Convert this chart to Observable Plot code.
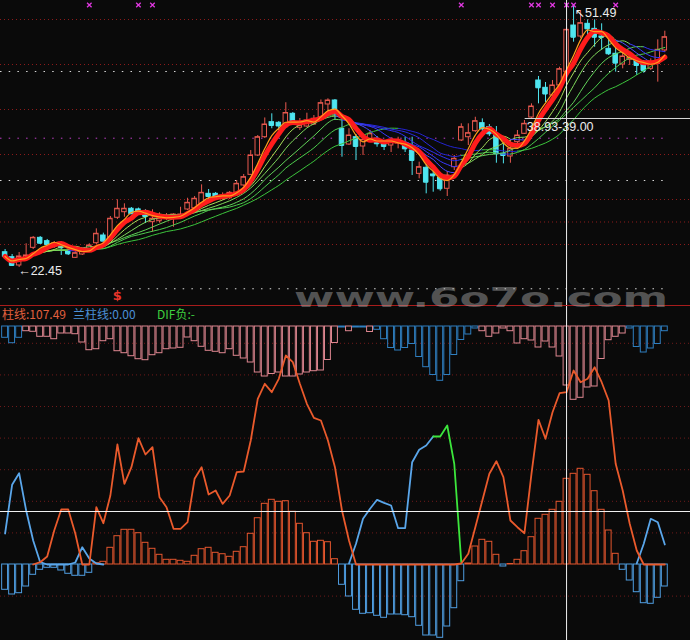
<!DOCTYPE html>
<html>
<head>
<meta charset="utf-8">
<script src="https://cdn.jsdelivr.net/npm/d3@7"></script>
<script src="https://cdn.jsdelivr.net/npm/@observablehq/plot@0.6"></script>
<style>
  html, body { margin: 0; padding: 0; background: #0a0a0a; }
  #chart { position: relative; width: 690px; height: 640px; overflow: hidden; background: #0a0a0a; }
  #upper, #lower { position: absolute; left: 0; }
  #upper { top: 0; }
  #lower { top: 306px; }
  #sep { position: absolute; left: 0; top: 305px; width: 690px; height: 1px; background: #a81c1c; }
  .hdr { position: absolute; top: 306px; font: 12px/16px "Noto Sans CJK SC", sans-serif; white-space: nowrap; }
  #wm { position: absolute; left: 294px; top: 284px; font: bold 27px/27px "DejaVu Sans", sans-serif;
        color: rgba(175,175,175,0.45); transform: scaleX(1.62); transform-origin: 0 0; white-space: nowrap; }
  svg { display: block; }
</style>
</head>
<body>
<div id="chart">
  <div id="upper"></div>
  <div id="lower"></div>
  <div id="sep"></div>
  <div class="hdr" style="left:2px;color:#e2603e">柱线:107.49</div>
  <div class="hdr" style="left:73px;color:#4b8fd6">兰柱线:0.00</div>
  <div class="hdr" style="left:157px;color:#3fcf3f">DIF负:-</div>
  <div id="wm">www.6o7o.com</div>
</div>
<script>
// ---------- price candles (95 bars) ----------
const open  = [24.14,23.59,22.67,23.30,24.63,25.74,25.37,24.78,25.08,24.26,23.52,23.89,24.33,25.14,26.00,25.44,27.97,28.59,28.97,28.90,
               28.59,27.48,27.59,27.86,27.97,28.03,28.89,29.03,29.52,30.63,30.63,30.08,30.14,30.74,31.56,32.74,34.89,36.92,38.59,38.52,
               38.03,39.52,37.97,38.11,38.33,39.14,40.56,41.00,37.86,36.11,36.92,35.89,36.67,36.74,36.37,36.00,36.22,36.00,35.44,32.85,
               33.52,32.78,32.41,31.19,33.59,36.56,36.92,37.59,38.48,38.03,37.11,35.08,34.78,36.37,37.30,39.11,43.22,42.41,41.56,42.67,
               44.15,49.33,48.11,49.52,48.96,48.11,46.74,46.19,45.00,45.52,45.44,45.08,44.52,45.07,46.56];
const high  = [24.44,23.89,24.11,25.08,25.89,25.89,25.56,25.33,25.33,24.44,24.22,24.44,25.08,26.74,26.26,28.11,29.97,29.52,29.11,29.05,
               28.86,28.86,28.52,28.44,28.41,29.14,30.14,30.33,31.63,31.11,30.78,30.74,30.89,32.11,32.78,35.44,37.11,39.06,39.52,38.67,
               40.75,39.67,39.00,39.59,39.33,41.06,41.19,41.11,39.14,37.86,37.22,36.89,37.67,37.00,36.56,36.89,36.92,36.92,36.92,34.15,
               33.89,33.59,32.78,33.11,34.89,38.41,38.41,39.14,38.96,38.33,38.11,36.26,36.56,37.67,38.78,40.63,43.67,43.00,43.22,44.70,
               49.11,51.49,51.00,49.96,49.96,49.52,48.41,46.92,46.56,46.37,45.81,45.44,45.63,47.74,48.70];
const low   = [23.45,22.56,22.45,23.11,24.44,25.00,24.78,24.56,23.78,23.78,23.45,23.78,24.22,25.00,25.22,25.33,27.78,28.03,28.33,28.30,
               27.33,26.37,27.37,27.67,26.92,27.89,28.78,28.89,29.44,29.89,30.00,29.89,30.00,30.67,31.44,32.67,34.78,36.78,37.86,37.67,
               37.89,38.22,37.67,38.00,38.22,39.00,39.11,38.78,34.70,36.00,34.33,34.89,36.56,35.81,35.44,35.22,35.63,35.22,32.67,32.30,
               30.63,30.81,30.92,30.33,33.22,36.44,36.00,37.44,37.11,37.00,34.03,33.96,34.03,36.22,37.22,39.00,40.63,40.78,41.44,42.56,
               44.00,47.48,47.89,48.03,46.92,46.56,46.00,44.15,44.52,44.89,43.78,44.03,44.33,43.04,46.33];
const close = [23.67,22.67,23.67,23.78,25.74,25.14,25.00,25.11,24.63,23.96,24.03,24.26,24.89,26.19,25.37,27.86,28.97,28.97,28.41,28.45,
               28.11,27.86,27.86,28.03,28.33,28.33,29.63,30.08,30.74,30.33,30.08,30.44,30.74,31.74,32.48,34.89,36.92,38.33,38.22,38.17,
               39.61,38.41,38.26,38.78,38.97,40.70,41.00,39.52,36.00,37.11,35.89,36.63,37.30,36.19,35.89,36.63,36.44,35.63,34.33,33.59,
               31.92,32.63,31.19,32.67,34.52,38.03,37.37,38.70,37.85,37.30,35.08,34.89,35.63,37.11,38.41,40.33,42.41,41.72,42.67,44.48,
               48.85,48.03,49.59,48.96,48.03,48.00,46.19,45.15,45.89,45.74,44.89,44.33,45.15,46.63,48.03];

// ---------- price grid lines and markers ----------
const priceGridRed   = [25, 27.5, 30, 35, 40, 45, 50];
const priceGridWhite = [20.08, 32.11, 44.22];
const priceGridPink  = [36.81];
const crossMarks     = [12, 19, 21, 65, 75, 76, 78, 80, 81, 87];   // magenta × at top
const signalMarks    = [{i: 16, t: "$"}];
const notes = [
  {i: 2,  p: 22.45, t: "←22.45", anchor: "start", dx: -1, dy: 4},
  {i: 81, p: 51.49, t: "↖51.49", anchor: "start", dx: 1,  dy: 7},
  {i: 80, p: 39.00, t: "38.93-39.00", anchor: "end", dx: 27, dy: 9}
];
const crossIdx = 80, crossPrice = 39.0, crossFrom = 74.1, crossLow = 53;

// ---------- lower panel ----------
// top hanging bars (+ pink 柱线, − blue 兰柱线)
const topBars = [-11.3,-16.7,-11.3,4.7,5.3,10.3,10.3,12.7,7,7,7.7,16,23.7,22.7,14.7,12.7,24.7,26.7,29.7,32.7,
                 33.7,28.7,26.7,22.7,22,21.3,11,14.7,20.3,24.3,25.3,26.7,22.7,29.3,32,36,46,50,47.5,46,
                 50,50,48,46,44.7,44,33.5,16.5,-1,4.7,-1,-1,5.5,-3.3,-12.7,-21.5,-24,-21.5,-17.5,-30.5,
                 -40.7,-48.5,-54.3,-48.5,-28.5,-13.5,-8,-2,4.7,10.3,7,2,4.7,17,12.7,14,21,15,21,30,
                 59,73.3,71.3,61,60,32.5,13.7,10.3,7,-2,-20.5,-26,-22,-17.5,-4.7];
// bottom histogram (+ red, − blue)
const hist = [-25.3,-30,-28.7,-22,-10.3,-5.3,-3.3,-3.3,-6,-9.3,-11.3,-11.3,-8.3,1.3,2.7,16.7,28.3,34.7,34.7,31.3,
              21.7,15.7,9.7,4.7,4.7,3.7,2.7,8.7,15.3,16.7,11.7,10.3,7.7,12.7,17.3,30.7,46.3,60.7,64.7,62.7,
              63.3,52.7,40.7,31.3,22.7,23.7,22.3,5.3,-20.3,-32,-45.3,-49.3,-48.7,-51.3,-53.3,-50,-50,-50.7,-52.7,-61.3,
              -71,-71,-73.3,-62,-43.7,-16.7,1,18,24.7,22.7,9.7,-2,0.5,4.7,13.3,27.3,45.7,49.7,54.7,62.7,
              85.7,90.7,95.7,89.7,73.3,54.7,34,10.7,-5.3,-16,-27.7,-38.7,-39.3,-33.3,-22];
const lineOrange = [null,null,null,null,0,2.3,8,34,55,55,31,0,0,57.3,41.3,69,120,80.7,97.3,126.3,
                    110,117.3,67.3,57.3,35.7,35.7,42.3,85.7,97.3,70,74,60.7,69,92.3,93,124,165.7,180.7,172.3,185.7,
                    209,202.3,180.7,160.7,146.7,144,124,97.3,54,24,0,0,0,0,0,0,0,0,0,0,
                    0,0,0,0,0,1,10.7,37.3,64,90.7,103.3,87.3,44,37.3,31.3,90.7,144.7,125.7,152.3,171.3,
                    172.3,194,182.3,185.7,197.3,182.3,164,100.7,74,40.7,14,0,0,0,0];
const lineBlue = [31,79.7,91.3,54,24,2.3,0,0,0,0,2,17.3,6,1,0,null,null,null,null,null,
                  null,null,null,null,null,null,null,null,null,null,null,null,null,null,null,null,null,null,null,null,
                  null,null,null,null,null,null,null,null,null,1,20.7,45.7,55.7,64.7,61.7,59,36.3,36.3,102.3,114.7,
                  119,128,null,null,null,null,null,null,null,null,null,null,null,null,null,null,null,null,null,null,
                  null,null,null,null,null,null,null,null,null,null,1,20.7,45.7,42.3,20];
const lineGreen = [null,null,null,null,null,null,null,null,null,null,null,null,null,null,null,null,null,null,null,null,
                   null,null,null,null,null,null,null,null,null,null,null,null,null,null,null,null,null,null,null,null,
                   null,null,null,null,null,null,null,null,null,null,null,null,null,null,null,null,null,null,null,null,
                   null,128,128,139,100.7,2.3,null,null,null,null,null,null,null,null,null,null,null,null,null,null,
                   null,null,null,null,null,null,null,null,null,null,null,null,null,null,null];
const lowGrid = [-31.6, 31.6, 63.2, 94.8, 126.4, 158, 189.6, 221.2];
const TOP_BASE = 238;

// ---------- styling ----------
const RED = "#ea5a50", CYAN = "#4fe6f0", BG = "#0a0a0a";
const xDomain = [-0.655, 97.66];
const maSpecs = [
  {k: 20, up: "#3cc43c", down: "#2424d0"},
  {k: 15, up: "#4ccc4c", down: "#2a2ae0"},
  {k: 12, up: "#62d35a", down: "#3030f0"},
  {k: 9,  up: "#80d95c", down: "#3838ff"},
  {k: 7,  up: "#a8de5a", down: "#4a4aff"}
];

const candles = close.map((c, i) => ({i, o: open[i], h: high[i], l: low[i], c, up: c >= open[i]}));

// colour each moving-average segment by its direction (rising green, falling blue)
function slopeColors(k, up, down) {
  const ma = close.map((_, i) => d3.mean(close.slice(Math.max(0, i - k + 1), i + 1)));
  return ma.map((m, i) => (i === 0 || m < ma[i - 1]) ? down : up);
}
const hw = 0.32, bw = 0.42;

const upper = Plot.plot({
  width: 690, height: 306, margin: 0,
  x: {domain: xDomain, axis: null},
  y: {domain: [18.111, 52.111], axis: null},
  color: {type: "identity"},
  style: {background: "transparent"},
  marks: [
    Plot.ruleY(priceGridRed, {stroke: "#8e1c1c", strokeDasharray: "1,3"}),
    Plot.ruleY(priceGridWhite, {x1: xDomain[0], x2: 94.3, stroke: "#dcdcdc", strokeDasharray: "1.5,7.2"}),
    Plot.ruleY(priceGridPink, {x1: xDomain[0], x2: 94.3, stroke: "#c040c8", strokeDasharray: "1.5,7.2"}),
    Plot.ruleX(candles, {x: "i", y1: "l", y2: "h", stroke: d => d.up ? RED : CYAN}),
    Plot.rect(candles, {x1: d => d.i - hw, x2: d => d.i + hw, y1: "o", y2: "c",
                        fill: d => d.up ? BG : CYAN, stroke: d => d.up ? RED : CYAN}),
    Plot.ruleY(candles, {x1: d => d.i - hw, x2: d => d.i + hw, y: "c", stroke: d => d.up ? RED : CYAN}),
    ...maSpecs.map(s => Plot.lineY(candles, Plot.windowY({k: s.k, anchor: "end"},
        {x: "i", y: "c", z: null, stroke: slopeColors(s.k, s.up, s.down), strokeWidth: 1, curve: "monotone-x"}))),
    Plot.lineY(candles, Plot.windowY({k: 5, anchor: "end"}, {x: "i", y: "c", stroke: "#ff1c1c", strokeWidth: 5, curve: "monotone-x"})),
    Plot.lineY(candles, Plot.windowY({k: 4, anchor: "end"}, {x: "i", y: "c", stroke: "#ff9d1c", strokeWidth: 1.2, curve: "monotone-x"})),
    Plot.dot(crossMarks, {x: d => d, frameAnchor: "top", dy: 4.5, symbol: "times", r: 2.2, stroke: "#e038e0", strokeWidth: 1.3}),
    Plot.text(signalMarks, {x: "i", text: "t", frameAnchor: "bottom", dy: -7, fill: "#e8342a", fontWeight: "bold", fontSize: 13, fontFamily: "DejaVu Sans"}),
    Plot.ruleX([crossIdx], {stroke: "#f0f0f0"}),
    Plot.ruleY([crossPrice], {x1: crossFrom, x2: xDomain[1], stroke: "#d8d8d8"}),
    ...notes.map(n => Plot.text([n], {x: "i", y: "p", text: "t", textAnchor: n.anchor, dx: n.dx, dy: n.dy,
                      fill: "#ececec", fontSize: 12.5, fontFamily: "Liberation Sans, DejaVu Sans"}))
  ]
});
document.getElementById("upper").append(upper);

const rows = close.map((_, i) => ({i, top: topBars[i], h: hist[i], o: lineOrange[i], b: lineBlue[i], g: lineGreen[i]}));

const lower = Plot.plot({
  width: 690, height: 334, margin: 0,
  x: {domain: xDomain, axis: null},
  y: {domain: [-76, 258], axis: null},
  color: {type: "identity"},
  style: {background: "transparent"},
  marks: [
    Plot.ruleY(lowGrid, {stroke: "#701a1a", strokeDasharray: "1,3"}),
    Plot.rect(rows, {x1: d => d.i - bw, x2: d => d.i + bw, y1: TOP_BASE, y2: d => TOP_BASE - Math.abs(d.top),
                     fill: "none", stroke: d => d.top >= 0 ? "#de8690" : "#2f7fc0"}),
    Plot.rect(rows, {x1: d => d.i - bw, x2: d => d.i + bw, y1: 0, y2: "h",
                     fill: "none", stroke: d => d.h >= 0 ? "#e4562e" : "#4f9de0"}),
    Plot.line(rows, {x: "i", y: "b", stroke: "#5aa6ea", strokeWidth: 1.8}),
    Plot.line(rows, {x: "i", y: "g", stroke: "#3ce63c", strokeWidth: 1.8}),
    Plot.line(rows, {x: "i", y: "o", stroke: "#ea5a2c", strokeWidth: 1.8}),
    Plot.ruleX([crossIdx], {stroke: "#f0f0f0"}),
    Plot.ruleY([crossLow], {stroke: "#f0f0f0"})
  ]
});
document.getElementById("lower").append(lower);
</script>
</body>
</html>
